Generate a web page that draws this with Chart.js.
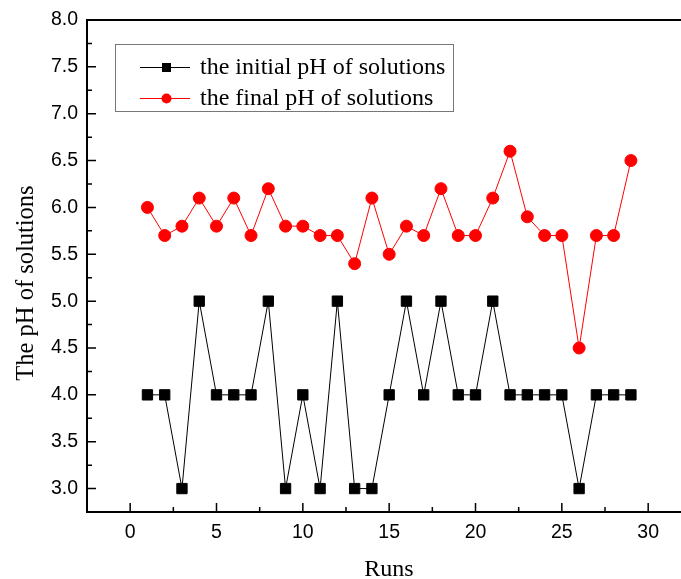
<!DOCTYPE html>
<html>
<head>
<meta charset="utf-8">
<script src="https://cdn.jsdelivr.net/npm/chart.js@4/dist/chart.umd.min.js"></script>
<style>
html,body{margin:0;padding:0;background:#fff;}
#wrap{width:681px;height:579px;position:relative;}
</style>
</head>
<body>
<div id="wrap"><canvas id="c" width="681" height="579"></canvas></div>
<script>
const runs = [1,2,3,4,5,6,7,8,9,10,11,12,13,14,15,16,17,18,19,20,21,22,23,24,25,26,27,28,29];
const initialPH = [4,4,3,5,4,4,4,5,3,4,3,5,3,3,4,5,4,5,4,4,5,4,4,4,4,3,4,4,4];
const finalPH = [6.0,5.7,5.8,6.1,5.8,6.1,5.7,6.2,5.8,5.8,5.7,5.7,5.4,6.1,5.5,5.8,5.7,6.2,5.7,5.7,6.1,6.6,5.9,5.7,5.7,4.5,5.7,5.7,6.5];
const xTicks = [0,5,10,15,20,25,30];
const xMinor = [2.5,7.5,12.5,17.5,22.5,27.5];
const yTicks = [3.0,3.5,4.0,4.5,5.0,5.5,6.0,6.5,7.0,7.5,8.0];
const yMinor = [3.25,3.75,4.25,4.75,5.25,5.75,6.25,6.75,7.25,7.75];
const seriesNames = ['the initial pH of solutions','the final pH of solutions'];
const xTitle = 'Runs';
const yTitle = 'The pH of solutions';

const SERIF = '"Liberation Serif", "Times New Roman", serif';

const tickPlugin = {
  id: 'frameTicks',
  afterDraw(chart) {
    const ctx = chart.ctx;
    const xs = chart.scales.x, ys = chart.scales.y;
    const a = chart.chartArea;
    ctx.save();
    ctx.strokeStyle = '#000';
    ctx.lineWidth = 2;
    // top border and bottom axis extended to the picture edge
    ctx.beginPath();
    ctx.moveTo(a.left - 1, a.top);
    ctx.lineTo(chart.width, a.top);
    ctx.moveTo(a.right, a.bottom);
    ctx.lineTo(chart.width, a.bottom);
    ctx.stroke();
    ctx.lineWidth = 1.5;
    ctx.beginPath();
    xTicks.forEach(v => { const p = xs.getPixelForValue(v); ctx.moveTo(p, a.bottom); ctx.lineTo(p, a.bottom - 9); });
    xMinor.forEach(v => { const p = xs.getPixelForValue(v); ctx.moveTo(p, a.bottom); ctx.lineTo(p, a.bottom - 5); });
    yTicks.forEach(v => { const p = ys.getPixelForValue(v); ctx.moveTo(a.left, p); ctx.lineTo(a.left + 9, p); });
    yMinor.forEach(v => { const p = ys.getPixelForValue(v); ctx.moveTo(a.left, p); ctx.lineTo(a.left + 5, p); });
    ctx.stroke();
    // axis titles
    ctx.fillStyle = '#000';
    ctx.font = '24px ' + SERIF;
    ctx.textAlign = 'center';
    ctx.textBaseline = 'alphabetic';
    ctx.fillText(xTitle, 389, 576);
    ctx.save();
    ctx.translate(33, 283);
    ctx.rotate(-Math.PI / 2);
    ctx.font = '24.5px ' + SERIF;
    ctx.fillText(yTitle, 0, 0);
    ctx.restore();
    // legend
    const L = {x: 115, y: 44, w: 338, h: 67};
    ctx.lineWidth = 1;
    ctx.strokeStyle = '#777';
    ctx.strokeRect(L.x + 0.5, L.y + 0.5, L.w, L.h);
    const rows = [
      {y: 67, color: '#000', style: 'rect'},
      {y: 98, color: '#ff0000', style: 'circle'}
    ];
    ctx.font = '24px ' + SERIF;
    ctx.textBaseline = 'middle';
    ctx.textAlign = 'left';
    rows.forEach((r, i) => {
      ctx.strokeStyle = r.color;
      ctx.lineWidth = 1;
      ctx.beginPath();
      ctx.moveTo(140, r.y + 0.5);
      ctx.lineTo(190, r.y + 0.5);
      ctx.stroke();
      ctx.fillStyle = r.color;
      if (r.style === 'rect') {
        ctx.fillRect(162, r.y - 4, 9, 9);
      } else {
        ctx.beginPath();
        ctx.arc(166.5, r.y + 0.5, 5, 0, Math.PI * 2);
        ctx.fill();
      }
      ctx.fillStyle = '#000';
      ctx.fillText(seriesNames[i], 200, r.y + 1);
    });
    ctx.restore();
  }
};

new Chart(document.getElementById('c'), {
  type: 'scatter',
  data: {
    datasets: [
      {
        label: seriesNames[0],
        data: runs.map((r, i) => ({x: r, y: initialPH[i]})),
        showLine: true,
        borderColor: '#000',
        borderWidth: 1,
        backgroundColor: '#000',
        pointStyle: 'rect',
        pointRadius: 7.3,
        pointHoverRadius: 7.3,
        pointBorderWidth: 1,
        pointBorderColor: '#000',
        pointBackgroundColor: '#000'
      },
      {
        label: seriesNames[1],
        data: runs.map((r, i) => ({x: r, y: finalPH[i]})),
        showLine: true,
        borderColor: '#ff0000',
        borderWidth: 1,
        backgroundColor: '#ff0000',
        pointStyle: 'circle',
        pointRadius: 6,
        pointHoverRadius: 6,
        pointBorderWidth: 1,
        pointBorderColor: '#ff0000',
        pointBackgroundColor: '#ff0000'
      }
    ]
  },
  options: {
    responsive: false,
    animation: false,
    events: [],
    layout: {padding: {top: 20, right: 0, left: 0, bottom: 0}},
    plugins: {legend: {display: false}, tooltip: {enabled: false}},
    scales: {
      x: {
        type: 'linear',
        min: -2.5,
        max: 31.42,
        afterBuildTicks: s => { s.ticks = xTicks.map(v => ({value: v})); },
        afterFit: s => { s.height = 67; s.paddingLeft = 0; s.paddingRight = 0; },
        grid: {display: false, drawTicks: false},
        border: {display: true, color: '#000', width: 2},
        ticks: {
          color: '#000',
          padding: 9,
          font: {family: '"Liberation Sans", Arial, sans-serif', size: 19.5},
          callback: v => String(v)
        },
        title: {display: false}
      },
      y: {
        type: 'linear',
        min: 2.75,
        max: 8.0,
        afterBuildTicks: s => { s.ticks = yTicks.map(v => ({value: v})); },
        afterFit: s => { s.width = 87; s.paddingTop = 0; s.paddingBottom = 0; },
        grid: {display: false, drawTicks: false},
        border: {display: true, color: '#000', width: 2},
        ticks: {
          color: '#000',
          padding: 9,
          font: {family: '"Liberation Sans", Arial, sans-serif', size: 19.5},
          callback: v => Number(v).toFixed(1)
        },
        title: {display: false}
      }
    }
  },
  plugins: [tickPlugin]
});
</script>
</body>
</html>
